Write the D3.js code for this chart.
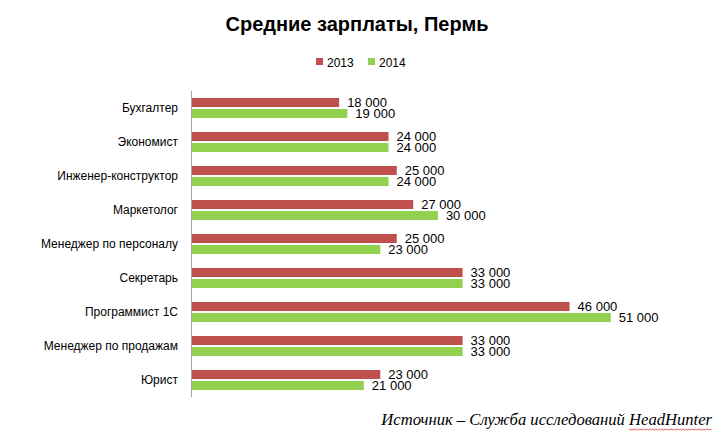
<!DOCTYPE html>
<html>
<head>
<meta charset="utf-8">
<script src="https://cdn.jsdelivr.net/npm/d3@7"></script>
<style>
  body { margin: 0; background: #fff; }
  svg text { font-family: "Liberation Sans", Arial, sans-serif; fill: #000; }
  .title { font-weight: bold; font-size: 20px; }
  .cat { font-size: 12px; }
  .val { font-size: 13px; }
  .leg { font-size: 12px; }
  .src { font-family: "Liberation Serif", serif; font-style: italic; font-size: 16.6px; }
</style>
</head>
<body>
<div id="vis"></div>
<script>
// chart data
var categories = ["Бухгалтер", "Экономист", "Инженер-конструктор", "Маркетолог",
    "Менеджер по персоналу", "Секретарь", "Программист 1С", "Менеджер по продажам", "Юрист"];
var years = ["2013", "2014"];
var values2013 = [18000, 24000, 25000, 27000, 25000, 33000, 46000, 33000, 23000];
var values2014 = [19000, 24000, 24000, 30000, 23000, 33000, 51000, 33000, 21000];
var colors = ["#C0504D", "#92D050"];

var width = 724;
var height = 448;

var margin = {
    left: 191,
    top: 91,
    right: 10,
    bottom: 51
};

var drawHeight = height - margin.top - margin.bottom;

var svg = d3.select("#vis")
    .append('svg')
    .attr('width', width)
    .attr('height', height);

// title
svg.append('text')
    .attr('class', 'title')
    .attr('x', 357)
    .attr('y', 31)
    .attr('text-anchor', 'middle')
    .text('Средние зарплаты, Пермь');

// legend
var legend = svg.append('g')
    .attr('transform', 'translate(316,57)');
var legItems = legend.selectAll('g')
    .data(years)
    .enter().append('g')
    .attr('transform', function(d, i) { return 'translate(' + (i * 52) + ',0)'; });
legItems.append('rect')
    .attr('width', 7)
    .attr('height', 7)
    .attr('y', 1)
    .style('fill', function(d, i) { return colors[i]; });
legItems.append('text')
    .attr('class', 'leg')
    .attr('x', 11)
    .attr('y', 9.5)
    .text(function(d) { return d; });

var g = svg.append('g')
    .attr('transform', 'translate(' + margin.left + ',' + margin.top + ')');

var yScale = d3.scaleBand()
    .domain(categories)
    .range([0, drawHeight])
    .paddingInner(0.41)
    .paddingOuter(0.205);

var yInner = d3.scaleBand()
    .domain(years)
    .range([0, yScale.bandwidth()])
    .paddingInner(0.18);

var xScale = d3.scaleLinear()
    .domain([0, 1000])
    .range([0, 8.23]);

var rows = categories.map(function(c, i) {
    return { cat: c, vals: [values2013[i], values2014[i]] };
});

var groups = g.selectAll('.row')
    .data(rows)
    .enter().append('g')
    .attr('class', 'row')
    .attr('transform', function(d) { return 'translate(0,' + yScale(d.cat) + ')'; });

var bars = groups.selectAll('rect')
    .data(function(d) {
        return d.vals.map(function(v, i) { return { year: years[i], v: v, i: i }; });
    })
    .enter();

bars.append('rect')
    .attr('x', 0)
    .attr('y', function(d) { return yInner(d.year); })
    .attr('height', yInner.bandwidth())
    .attr('width', function(d) { return xScale(d.v); })
    .style('fill', function(d) { return colors[d.i]; });

var fmt = function(v) { return d3.format(',')(v).replace(/,/g, ' '); };

bars.append('text')
    .attr('class', 'val')
    .attr('x', function(d) { return xScale(d.v) + 8; })
    .attr('y', function(d) { return yInner(d.year) + yInner.bandwidth() / 2; })
    .attr('dy', '0.36em')
    .text(function(d) { return fmt(d.v); });

// category axis
var yAxis = d3.axisLeft(yScale).tickSize(0).tickPadding(13);
var axisG = g.append('g').call(yAxis);
axisG.select('.domain').attr('stroke', '#A6A6A6').attr('d', 'M0.5,0V' + drawHeight);
axisG.selectAll('text').attr('class', 'cat').style('font-family', null).style('font-size', null);
axisG.attr('font-family', null).attr('font-size', null);

// source note
var srcText = 'Источник – Служба исследований HeadHunter';
var src = svg.append('text')
    .attr('class', 'src')
    .attr('x', 712)
    .attr('y', 425)
    .attr('text-anchor', 'end')
    .text(srcText);

// spell-check squiggle under "HeadHunter"
var node = src.node();
var start = srcText.indexOf('HeadHunter');
var x0 = node.getStartPositionOfChar(start).x;
var x1 = node.getEndPositionOfChar(srcText.length - 1).x;
var wave = [];
for (var x = x0, k = 0; x <= x1; x += 1.5, k++) {
    wave.push([x, 429 + (k % 2 ? 1 : 0)]);
}
svg.append('path')
    .attr('d', d3.line()(wave))
    .attr('fill', 'none')
    .attr('stroke', '#E03030')
    .attr('stroke-width', 0.8);
</script>
</body>
</html>
